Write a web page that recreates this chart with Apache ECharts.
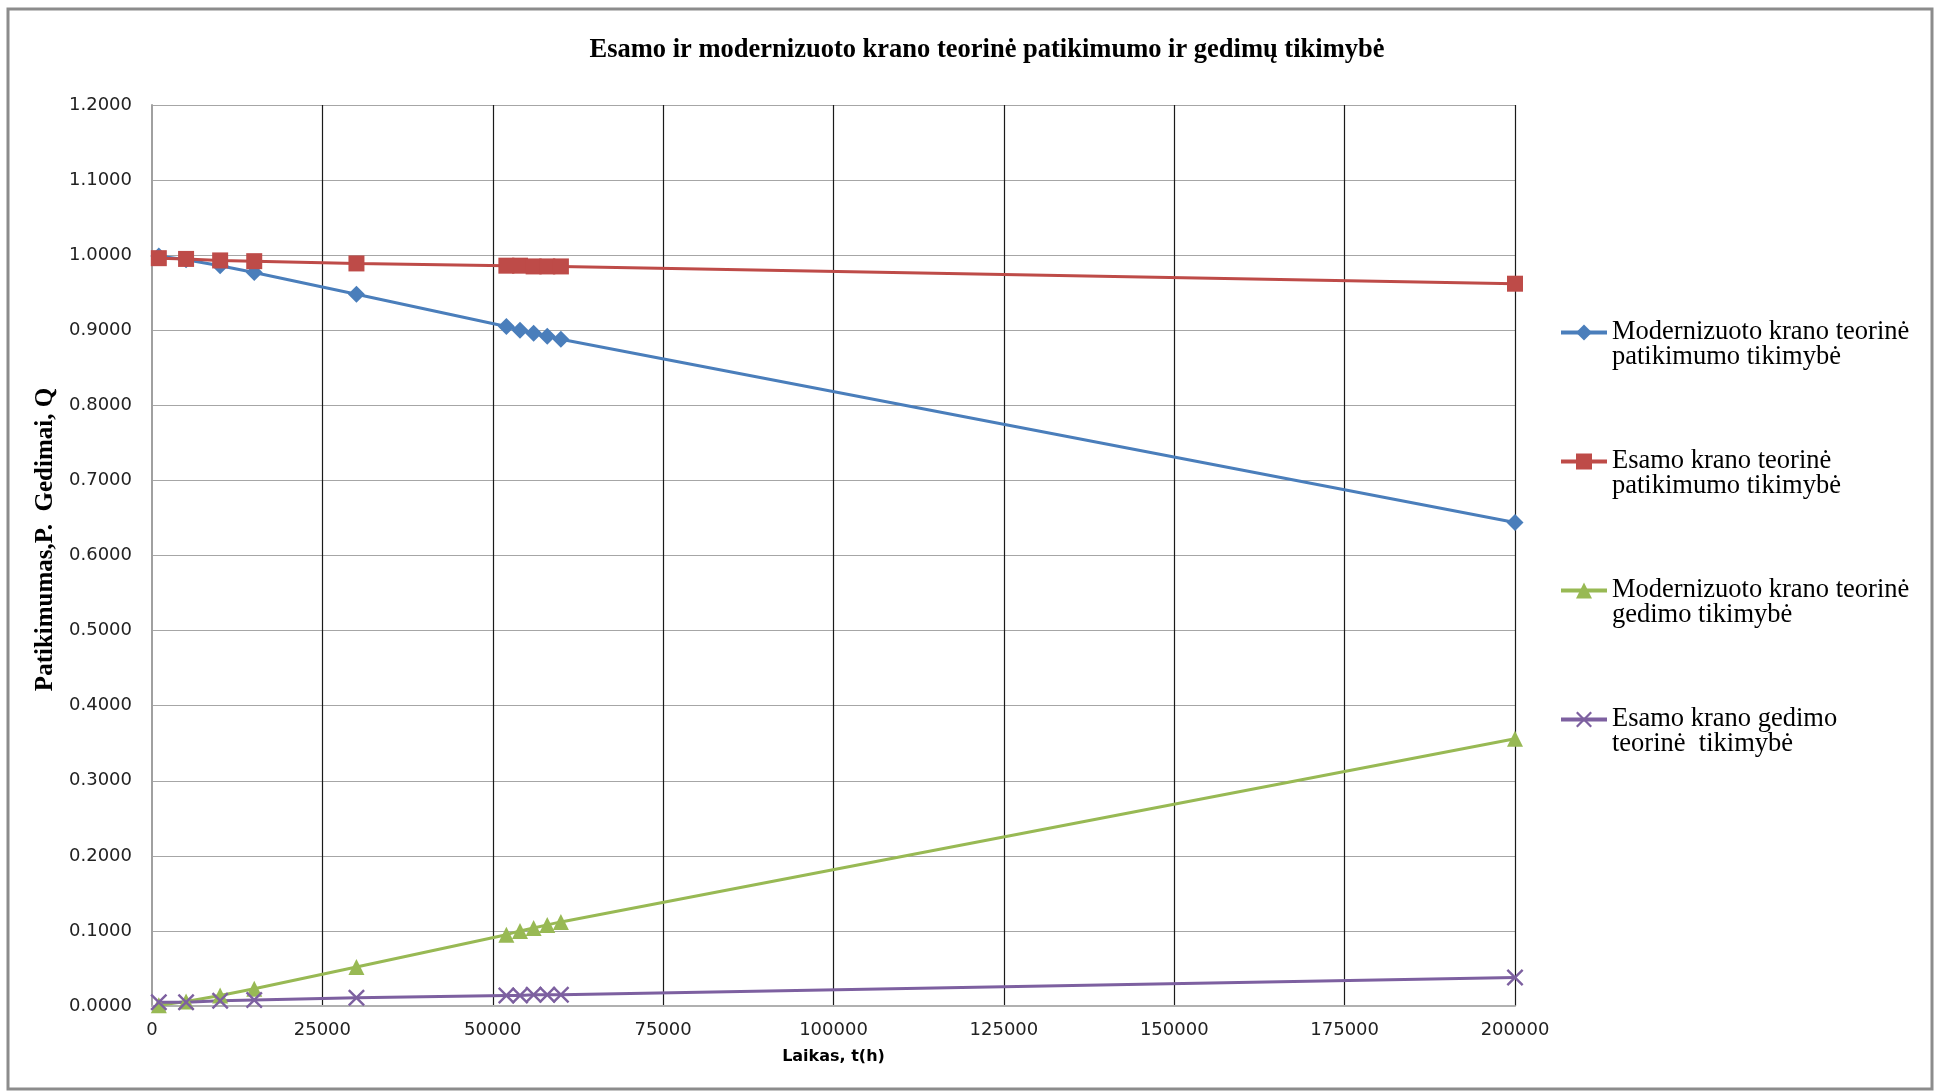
<!DOCTYPE html>
<html>
<head>
<meta charset="utf-8">
<title>Esamo ir modernizuoto krano teorinė patikimumo ir gedimų tikimybė</title>
<script src="https://cdn.jsdelivr.net/npm/echarts@6/dist/echarts.min.js"></script>
<style>
  html, body { margin: 0; padding: 0; background: #ffffff; }
  #chart { width: 1934px; height: 1091px; }
</style>
</head>
<body>
<div id="chart"></div>
<script>
// Operating time, hours
const hours = [1000, 5000, 10000, 15000, 30000, 52000, 54000, 56000, 58000, 60000, 200000];

// Reliability (P) and failure (Q) probabilities
const modernReliability = [0.999, 0.994, 0.986, 0.977, 0.948, 0.905, 0.900, 0.896, 0.892, 0.888, 0.644];
const currentReliability = [0.996, 0.995, 0.993, 0.992, 0.989, 0.986, 0.986, 0.985, 0.985, 0.985, 0.962];
const modernFailure = [0.001, 0.006, 0.014, 0.023, 0.052, 0.095, 0.100, 0.104, 0.108, 0.112, 0.356];
const currentFailure = [0.005, 0.005, 0.007, 0.008, 0.011, 0.014, 0.014, 0.015, 0.015, 0.015, 0.038];

const seriesNames = [
  'Modernizuoto krano teorinė\npatikimumo tikimybė',
  'Esamo krano teorinė\npatikimumo tikimybė',
  'Modernizuoto krano teorinė\ngedimo tikimybė',
  'Esamo krano gedimo\nteorinė  tikimybė'
];

const titleText = 'Esamo ir modernizuoto krano teorinė patikimumo ir gedimų tikimybė';
const xAxisTitle = 'Laikas, t(h)';
const yAxisTitle = 'Patikimumas,P.  Gedimai, Q';

// Cross marker drawn as a filled outline
const crossSymbol = 'path://M0,1L1,0L5,4L9,0L10,1L6,5L10,9L9,10L5,6L1,10L0,9L4,5Z';

function pairs(ys) {
  return hours.map((h, i) => [h, ys[i]]);
}

function lineSeries(name, ys, color, symbol, size) {
  return {
    name: name,
    type: 'line',
    data: pairs(ys),
    symbol: symbol,
    symbolSize: size,
    showAllSymbol: true,
    lineStyle: { color: color, width: 3 },
    itemStyle: { color: color },
    emphasis: { disabled: true },
    animation: false
  };
}

const chart = echarts.init(document.getElementById('chart'), null, { renderer: 'canvas' });

chart.setOption({
  backgroundColor: '#ffffff',
  animation: false,
  title: {
    text: titleText,
    left: 982,
    top: 32,
    textAlign: 'center',
    textStyle: {
      fontFamily: 'Liberation Serif',
      fontWeight: 'bold',
      fontSize: 26.5,
      color: '#000000'
    }
  },
  legend: {
    orient: 'vertical',
    left: 1559,
    top: 294,
    padding: 0,
    itemWidth: 46,
    itemHeight: 20,
    itemGap: 52,
    selectedMode: false,
    data: seriesNames,
    lineStyle: { width: 4 },
    // a blank first line keeps the icon level with the first text line
    formatter: name => ' \n' + name,
    textStyle: {
      fontFamily: 'Liberation Serif',
      fontSize: 26.5,
      lineHeight: 25,
      color: '#000000'
    }
  },
  grid: {
    left: 152,
    right: 419,
    top: 105,
    bottom: 85,
    containLabel: false
  },
  xAxis: {
    type: 'value',
    min: 0,
    max: 200000,
    interval: 25000,
    name: xAxisTitle,
    nameLocation: 'middle',
    nameGap: 43,
    nameTextStyle: {
      fontFamily: 'DejaVu Sans',
      fontWeight: 'bold',
      fontSize: 16,
      color: '#000000'
    },
    axisLine: { show: true, lineStyle: { color: '#b0b0b0', width: 2 } },
    axisTick: { show: false },
    axisLabel: {
      margin: 15,
      fontFamily: 'DejaVu Sans',
      fontSize: 18,
      color: '#222222',
      formatter: v => String(v)
    },
    splitLine: {
      show: true,
      showMinLine: false,
      lineStyle: { color: '#1a1a1a', width: 1.2 }
    }
  },
  yAxis: {
    type: 'value',
    min: 0,
    max: 1.2,
    interval: 0.1,
    name: yAxisTitle,
    nameLocation: 'middle',
    nameGap: 87,
    nameRotate: 90,
    nameTextStyle: {
      fontFamily: 'Liberation Serif',
      fontWeight: 'bold',
      fontSize: 25,
      color: '#000000',
      padding: [0, 0, 0, 32]
    },
    axisLine: { show: true, lineStyle: { color: '#a0a0a0', width: 2 } },
    axisTick: { show: false },
    axisLabel: {
      margin: 20,
      fontFamily: 'DejaVu Sans',
      fontSize: 18,
      color: '#222222',
      formatter: v => v.toFixed(4)
    },
    splitLine: {
      show: true,
      lineStyle: { color: '#a6a6a6', width: 1.2 }
    }
  },
  graphic: [
    {
      type: 'rect',
      silent: true,
      shape: { x: 8, y: 9, width: 1924, height: 1080 },
      style: { fill: 'none', stroke: '#8c8c8c', lineWidth: 3 }
    }
  ],
  series: [
    lineSeries(seriesNames[0], modernReliability, '#4A7EBB', 'diamond', 17),
    lineSeries(seriesNames[1], currentReliability, '#BE4B48', 'rect', 16),
    lineSeries(seriesNames[2], modernFailure, '#98B954', 'triangle', 16),
    lineSeries(seriesNames[3], currentFailure, '#7D60A0', crossSymbol, 17)
  ]
});
</script>
</body>
</html>
